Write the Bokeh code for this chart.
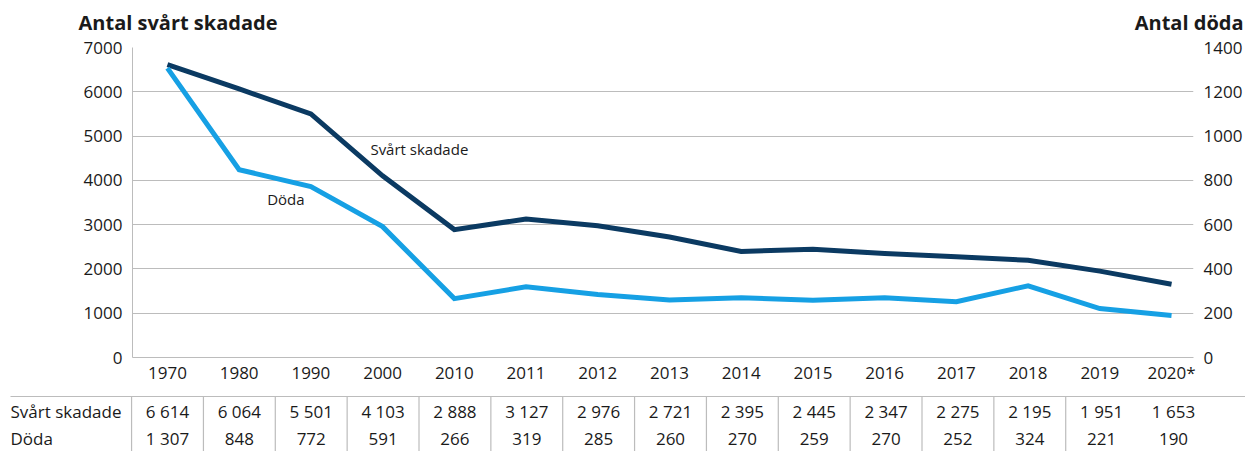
from bokeh.plotting import figure
from bokeh.models import Range1d, LinearAxis, FixedTicker
from bokeh.layouts import column
from bokeh.embed import file_html
from bokeh.resources import INLINE
from bokeh.core.properties import value

# ---- data ----
years = ["1970", "1980", "1990", "2000", "2010", "2011", "2012", "2013",
         "2014", "2015", "2016", "2017", "2018", "2019", "2020*"]
svart_skadade = [6614, 6064, 5501, 4103, 2888, 3127, 2976, 2721, 2395, 2445,
                 2347, 2275, 2195, 1951, 1653]
doda = [1307, 848, 772, 591, 266, 319, 285, 260, 270, 259, 270, 252, 324, 221, 190]
left_ticks = [0, 1000, 2000, 3000, 4000, 5000, 6000, 7000]
right_ticks = [0, 200, 400, 600, 800, 1000, 1200, 1400]
row_labels = ["Svårt skadade", "Döda"]
titles = ["Antal svårt skadade", "Antal döda"]

# ---- style ----
FONT = "Open Sans"
TXT = "#1a1a1a"
NAVY = "#0b3a62"
LIGHT = "#16a0e4"
GRID = "#bcbcbc"

idx = list(range(len(years)))
W = 1245
BL, BR = 132, 50
FW = W - BL - BR
U = 71.857            # pixels per category
first_px = 167        # x of first category
xs0 = (BL - first_px) / U
xe0 = xs0 + FW / U

# ---- header with axis titles ----
HH = 36
h = figure(width=W, height=HH, x_range=Range1d(0, W), y_range=Range1d(HH, 0),
           output_backend="svg", toolbar_location=None, min_border=0,
           x_axis_location=None, y_axis_location=None)
h.frame_align = False
h.outline_line_color = None
h.grid.visible = False
h.text(x=[78], y=[22], text=[titles[0]], text_font=value(FONT), text_font_size="20px",
       text_font_style="bold", text_color=TXT, text_align="left", text_baseline="middle")
h.text(x=[1243], y=[22], text=[titles[1]], text_font=value(FONT), text_font_size="20px",
       text_font_style="bold", text_color=TXT, text_align="right", text_baseline="middle")

# ---- chart ----
p = figure(width=W, height=353, x_range=Range1d(xs0, xe0), y_range=Range1d(0, 7000),
           output_backend="svg", toolbar_location=None,
           min_border_left=BL, min_border_right=BR, min_border_top=11, min_border_bottom=32)
p.frame_align = False
p.outline_line_color = None

p.extra_y_ranges = {"d": Range1d(0, 1400)}
rax = LinearAxis(y_range_name="d", ticker=FixedTicker(ticks=right_ticks))
p.add_layout(rax, "right")

p.yaxis[0].ticker = FixedTicker(ticks=left_ticks)
for ax in p.yaxis:
    ax.major_tick_line_color = None
    ax.minor_tick_line_color = None
    ax.major_tick_out = 0
    ax.major_tick_in = 0
    ax.major_label_standoff = 10
    ax.major_label_text_font = FONT
    ax.major_label_text_font_size = "17px"
    ax.major_label_text_color = TXT
p.yaxis[0].axis_line_color = GRID
rax.axis_line_color = None

xa = p.xaxis[0]
xa.ticker = FixedTicker(ticks=idx)
xa.major_label_overrides = {i: y for i, y in zip(idx, years)}
xa.major_tick_line_color = None
xa.minor_tick_line_color = None
xa.major_tick_out = 0
xa.major_tick_in = 0
xa.major_label_standoff = 3
xa.axis_line_color = GRID
xa.major_label_text_font = FONT
xa.major_label_text_font_size = "17px"
xa.major_label_text_color = TXT

p.xgrid.visible = False
p.ygrid.ticker = FixedTicker(ticks=left_ticks[1:])
p.ygrid.grid_line_color = GRID

p.line(idx, svart_skadade, line_color=NAVY, line_width=5, line_join="miter", line_cap="butt")
p.line(idx, doda, y_range_name="d", line_color=LIGHT, line_width=5, line_join="miter", line_cap="butt")

p.text(x=[2.83], y=[4700], text=["Svårt skadade"], text_font=value(FONT), text_font_size="15px",
       text_color=TXT, text_align="left", text_baseline="middle")
p.text(x=[1.39], y=[3590], text=["Döda"], text_font=value(FONT), text_font_size="15px",
       text_color=TXT, text_align="left", text_baseline="middle")

# ---- table ----
TH = 62
xs1 = -first_px / U
xe1 = xs1 + W / U
t = figure(width=W, height=TH, x_range=Range1d(xs1, xe1), y_range=Range1d(TH, 0),
           output_backend="svg", toolbar_location=None, min_border=0,
           x_axis_location=None, y_axis_location=None)
t.frame_align = False
t.outline_line_color = None
t.grid.visible = False

def fmt(v):
    return f"{v:,}".replace(",", " ")

lab_x = xs1 + 10 / U
row_y = [22, 49]
t.segment(x0=[lab_x], y0=[7], x1=[xe1], y1=[7], line_color=GRID, line_width=1.2)
seps = [i - 0.5 for i in idx[:-1]]
t.segment(x0=seps, y0=[7] * len(seps), x1=seps, y1=[TH] * len(seps), line_color=GRID, line_width=1.2)
t.text(x=[lab_x, lab_x], y=row_y, text=row_labels, text_font=value(FONT), text_font_size="17px",
       text_color=TXT, text_align="left", text_baseline="middle")
t.text(x=idx, y=[row_y[0]] * len(idx), text=[fmt(v) for v in svart_skadade], text_font=value(FONT),
       text_font_size="17px", text_color=TXT, text_align="center", text_baseline="middle")
t.text(x=idx, y=[row_y[1]] * len(idx), text=[fmt(v) for v in doda], text_font=value(FONT),
       text_font_size="17px", text_color=TXT, text_align="center", text_baseline="middle")

layout = column(h, p, t)
open("out.html", "w").write(file_html(layout, INLINE))
